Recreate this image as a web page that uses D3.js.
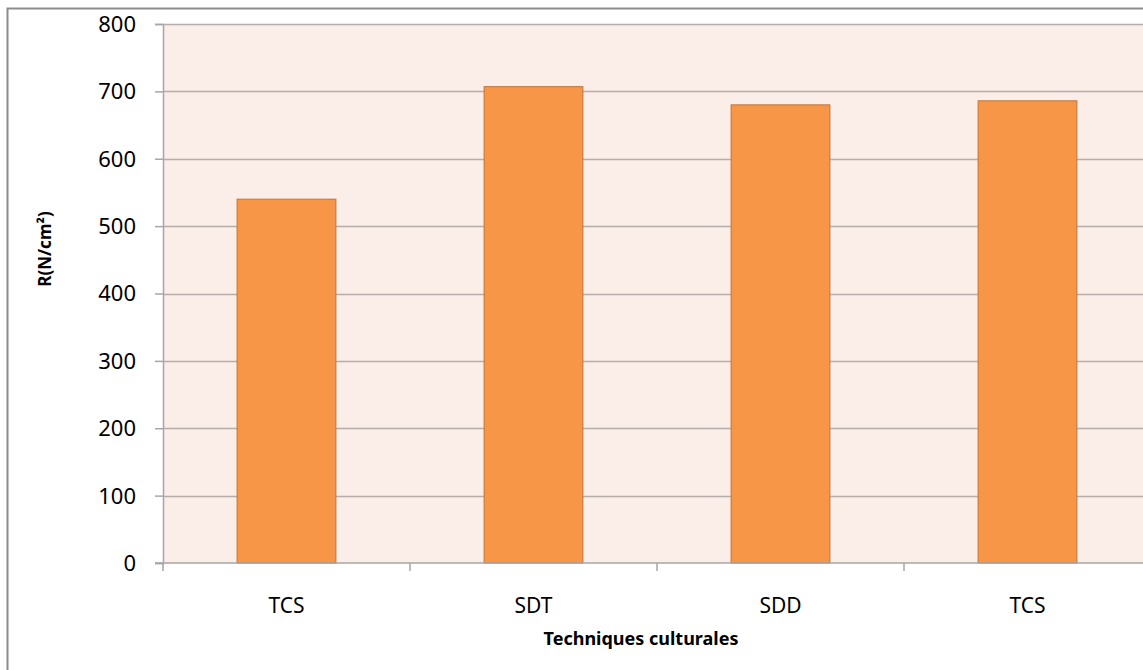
<!DOCTYPE html>
<html>
<head>
<meta charset="utf-8">
<script src="https://cdn.jsdelivr.net/npm/d3@7"></script>
<style>
  body { margin: 0; background: #fff; }
  text { font-family: "Noto Sans", "Open Sans", sans-serif; fill: #000; }
</style>
</head>
<body>
<div id="chart"></div>
<script>
// data
const categories = ["TCS", "SDT", "SDD", "TCS"];
const values = [540, 707, 680, 686];
const yTicks = [0, 100, 200, 300, 400, 500, 600, 700, 800];

const W = 1143, H = 670;
const margin = {top: 24, right: -8, bottom: 107, left: 163};
const width = W - margin.left - margin.right;
const height = H - margin.top - margin.bottom;

const svg = d3.select("#chart").append("svg")
    .attr("width", W)
    .attr("height", H);

// outer frame of the chart
svg.append("rect")
    .attr("x", 7.5).attr("y", 8.5)
    .attr("width", W + 10).attr("height", H + 10)
    .attr("fill", "none")
    .attr("stroke", "#8c8c8c")
    .attr("stroke-width", 2);

const g = svg.append("g")
    .attr("transform", "translate(" + margin.left + "," + margin.top + ")");

const x = d3.scaleBand()
    .domain(categories.map((c, i) => i))
    .range([0, width])
    .paddingInner(0.6)
    .paddingOuter(0.3);

const xTickScale = d3.scaleLinear().domain([0, categories.length]).range([0, width]);

const y = d3.scaleLinear().domain([0, 800]).range([height, 0]);

g.append("rect")
    .attr("width", width).attr("height", height)
    .attr("fill", "#fbede8");

// gridlines
g.selectAll(".grid")
    .data(yTicks.filter(d => d > 0))
    .enter().append("line")
    .attr("x1", 0).attr("x2", width)
    .attr("y1", d => Math.round(y(d)) + 0.5)
    .attr("y2", d => Math.round(y(d)) + 0.5)
    .attr("stroke", "#b4adaa")
    .attr("stroke-width", 1.5);

// bars
g.selectAll(".bar")
    .data(values)
    .enter().append("rect")
    .attr("class", "bar")
    .attr("x", (d, i) => x(i))
    .attr("width", x.bandwidth())
    .attr("y", d => y(d))
    .attr("height", d => y(0) - y(d))
    .attr("fill", "#f79646")
    .attr("stroke", "#c0743a")
    .attr("stroke-width", 1);

// y axis
const yAxis = g.append("g")
    .call(d3.axisLeft(y).tickValues(yTicks).tickSize(8).tickPadding(19));
yAxis.select(".domain").attr("stroke", "#a6a6a6").attr("stroke-width", 1.5);
yAxis.selectAll(".tick line").attr("stroke", "#a6a6a6").attr("stroke-width", 1.5);
yAxis.selectAll(".tick text")
    .style("font-size", "22px")
    .attr("fill", "#000")
    .attr("dy", "0.34em");

// x axis
const xAxis = g.append("g")
    .attr("transform", "translate(0," + height + ")");
xAxis.append("line")
    .attr("x1", -8).attr("x2", width)
    .attr("stroke", "#a6a6a6").attr("stroke-width", 1.5);
xAxis.selectAll(".xt")
    .data(d3.range(categories.length + 1))
    .enter().append("line")
    .attr("x1", d => xTickScale(d)).attr("x2", d => xTickScale(d))
    .attr("y1", 0).attr("y2", 8)
    .attr("stroke", "#a6a6a6").attr("stroke-width", 1.5);
xAxis.selectAll(".xl")
    .data(categories)
    .enter().append("text")
    .attr("x", (d, i) => x(i) + x.bandwidth() / 2)
    .attr("y", 50)
    .attr("text-anchor", "middle")
    .style("font-size", "21px")
    .text(d => d);

// axis titles
svg.append("text")
    .attr("x", 641).attr("y", 645)
    .attr("text-anchor", "middle")
    .style("font-size", "18px")
    .style("font-weight", "bold")
    .text("Techniques culturales");

svg.append("text")
    .attr("transform", "translate(51,249) rotate(-90)")
    .attr("text-anchor", "middle")
    .style("font-size", "17px")
    .style("font-weight", "bold")
    .text("R(N/cm²)");
</script>
</body>
</html>
